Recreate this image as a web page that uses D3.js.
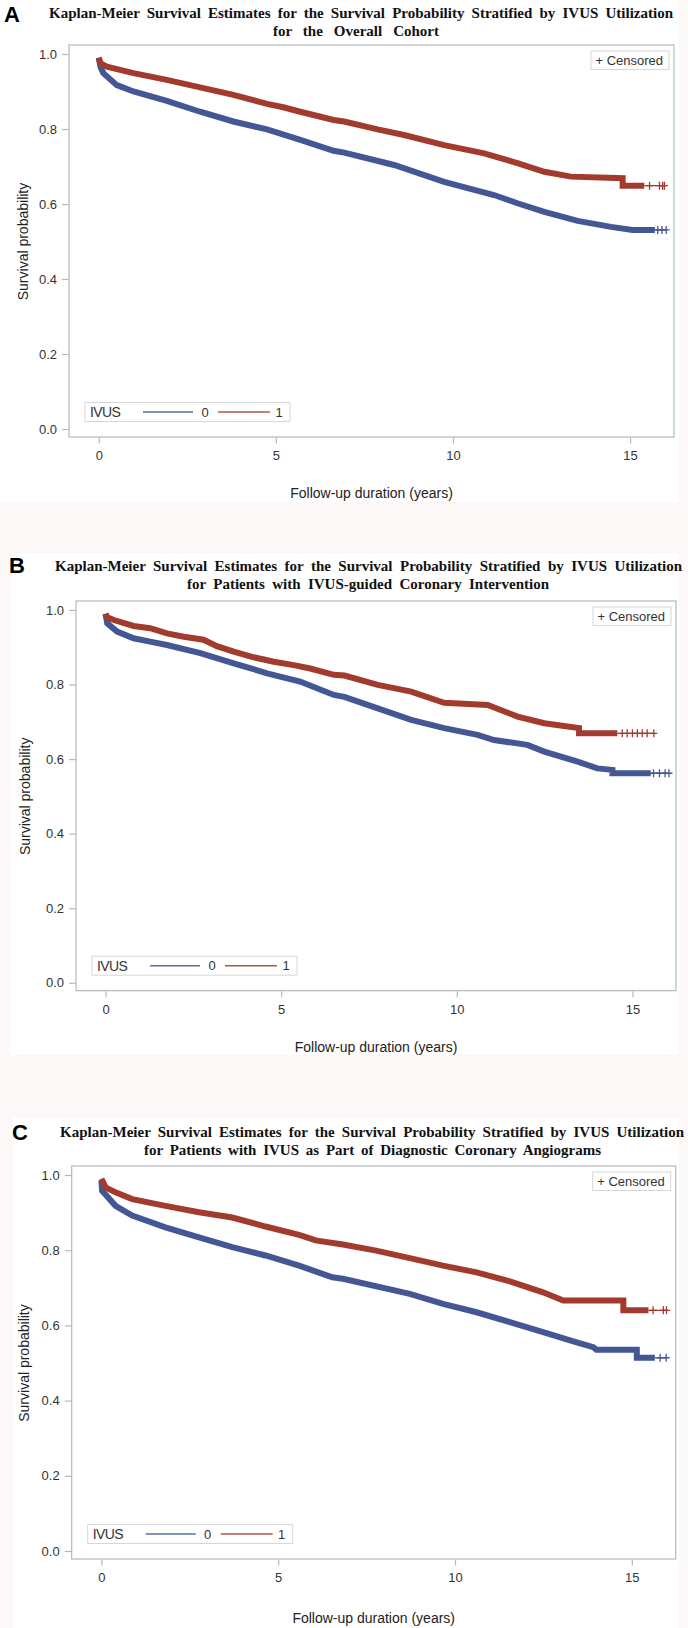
<!DOCTYPE html>
<html><head><meta charset="utf-8">
<script src="https://cdn.jsdelivr.net/npm/d3@7"></script>
<style>body{margin:0;background:#fcf8f8}svg{display:block}</style>
</head><body>
<svg id="c" width="688" height="1628"></svg>
<script>
// ---------- data ----------
const xTicks = [0, 5, 10, 15];
const yTicks = [0, 0.2, 0.4, 0.6, 0.8, 1.0];
const groups = ["0", "1"];
const panelLetters = ["A", "B", "C"];
const titleLine1 = "Kaplan-Meier Survival Estimates for the Survival Probability Stratified by IVUS Utilization";
const titleLine2 = [
  "for the Overall Cohort",
  "for Patients with IVUS-guided Coronary Intervention",
  "for Patients with IVUS as Part of Diagnostic Coronary Angiograms"
];
const xLabel = "Follow-up duration (years)";
const yLabel = "Survival probability";
const legendTitle = "IVUS";
const censLabel = "+ Censored";

// [time (years), survival probability]
const A_ivus0 = [[0,0.99],[0.05,0.965],[0.13,0.949],[0.51,0.917],[0.98,0.9],[1.92,0.875],[2.86,0.846],[3.8,0.82],[4.75,0.799],[5.69,0.771],[6.63,0.742],[6.93,0.737],[8.34,0.704],[9.75,0.659],[11.16,0.624],[11.82,0.602],[12.58,0.579],[13.52,0.555],[14.46,0.539],[15.07,0.531],[15.7,0.531]];
const A_ivus0_censored = [15.78, 15.9, 16.02];
const A_ivus1 = [[0,0.99],[0.05,0.975],[0.23,0.966],[0.98,0.949],[1.92,0.931],[2.86,0.911],[3.8,0.891],[4.75,0.867],[5.21,0.858],[5.69,0.846],[6.63,0.824],[6.93,0.82],[7.87,0.799],[8.62,0.784],[9.75,0.757],[10.88,0.735],[11.82,0.709],[12.58,0.686],[13.33,0.673],[14.79,0.669],[14.79,0.649],[15.4,0.649]];
const A_ivus1_censored = [15.55, 15.83, 15.92, 15.97];

const B_ivus0 = [[0,0.99],[0.05,0.964],[0.33,0.942],[0.8,0.924],[1.27,0.915],[1.75,0.906],[2.7,0.884],[3.65,0.857],[4.6,0.83],[5.54,0.808],[6.02,0.79],[6.5,0.772],[6.8,0.767],[7.75,0.736],[8.7,0.705],[9.64,0.683],[10.59,0.665],[11.06,0.651],[12.01,0.638],[12.49,0.62],[13.44,0.593],[14.0,0.575],[14.43,0.571],[14.43,0.562],[15.52,0.562]];
const B_ivus0_censored = [15.6, 15.77, 15.93, 16.04];
const B_ivus1 = [[0,0.99],[0.05,0.98],[0.24,0.973],[0.8,0.957],[1.27,0.951],[1.75,0.937],[2.23,0.928],[2.79,0.92],[3.17,0.903],[3.65,0.888],[4.22,0.873],[4.79,0.861],[5.36,0.852],[5.83,0.843],[6.5,0.826],[6.8,0.824],[7.75,0.799],[8.7,0.781],[9.64,0.751],[10.88,0.745],[11.73,0.714],[12.49,0.696],[13.48,0.683],[13.48,0.669],[14.57,0.669]];
const B_ivus1_censored = [14.71, 14.85, 15.0, 15.14, 15.28, 15.42, 15.61];

const C_ivus0 = [[0,0.985],[0.02,0.958],[0.4,0.918],[0.87,0.892],[1.81,0.861],[2.76,0.834],[3.7,0.808],[4.64,0.786],[5.59,0.759],[6.53,0.728],[6.83,0.724],[8.72,0.684],[9.66,0.657],[10.61,0.635],[11.55,0.609],[12.49,0.582],[13.44,0.555],[13.91,0.542],[14.0,0.535],[15.14,0.535],[15.14,0.514],[15.65,0.514]];
const C_ivus0_censored = [15.8, 15.97];
const C_ivus1 = [[0,0.99],[0.12,0.967],[0.4,0.954],[0.87,0.936],[1.81,0.918],[2.76,0.901],[3.7,0.887],[4.64,0.863],[5.59,0.841],[6.06,0.826],[6.83,0.815],[7.77,0.799],[8.72,0.779],[9.66,0.759],[10.61,0.741],[11.55,0.717],[12.49,0.688],[13.06,0.666],[14.76,0.666],[14.76,0.64],[15.47,0.64]];
const C_ivus1_censored = [15.6, 15.89, 15.98];

// ---------- drawing ----------
const SANS = "'Liberation Sans', Arial, sans-serif";
const SERIF = "'Liberation Serif', 'Times New Roman', serif";
const colors = {"0": "#445694", "1": "#A23A2E"};
const frameColor = "#b4b9be";

const panels = [
  {series: {"0": [A_ivus0, A_ivus0_censored], "1": [A_ivus1, A_ivus1_censored]},
   bg: [0, 0, 679, 502], frame: [69, 45, 674, 437],
   t1: [49, 673, 17.5], t2: [273, 439, 36], letter: [4, 22], yTitleX: 28, xTitleY: 498},
  {series: {"0": [B_ivus0, B_ivus0_censored], "1": [B_ivus1, B_ivus1_censored]},
   bg: [10, 553, 669, 502], frame: [76, 601, 676, 990.7],
   t1: [55, 682, 571], t2: [187, 549, 589], letter: [9, 573], yTitleX: 30, xTitleY: 1052},
  {series: {"0": [C_ivus0, C_ivus0_censored], "1": [C_ivus1, C_ivus1_censored]},
   bg: [13, 1118, 666, 510], frame: [71.7, 1166, 675.7, 1559],
   t1: [60, 684, 1136.5], t2: [144, 601, 1155], letter: [12, 1140], yTitleX: 29, xTitleY: 1623}
];

const svg = d3.select("#c");

function fitTitle(sel, x0, x1) {
  sel.attr("x", x0);
  const nat = sel.node().getComputedTextLength();
  const n = (sel.text().match(/ /g) || []).length;
  if (n > 0) sel.style("word-spacing", ((x1 - x0 - nat) / n) + "px");
}

panels.forEach((p, i) => {
  const [fx0, fy0, fx1, fy1] = p.frame;
  svg.append("rect").attr("x", p.bg[0]).attr("y", p.bg[1]).attr("width", p.bg[2]).attr("height", p.bg[3]).attr("fill", "#ffffff");

  const x = d3.scaleLinear().domain([-0.84, 16.24]).range([fx0, fx1]);
  const y = d3.scaleLinear().domain([-0.0213, 1.024]).range([fy1, fy0]);
  const g = svg.append("g");

  // titles
  const tl1 = g.append("text").attr("y", p.t1[2]).attr("font-family", SERIF).attr("font-weight", "bold")
    .attr("font-size", 15).attr("fill", "#111").text(titleLine1);
  fitTitle(tl1, p.t1[0], p.t1[1]);
  const tl2 = g.append("text").attr("y", p.t2[2]).attr("font-family", SERIF).attr("font-weight", "bold")
    .attr("font-size", 15).attr("fill", "#111").text(titleLine2[i]);
  fitTitle(tl2, p.t2[0], p.t2[1]);
  g.append("text").attr("x", p.letter[0]).attr("y", p.letter[1]).attr("font-family", SANS).attr("font-weight", "bold")
    .attr("font-size", 22).attr("fill", "#000").text(panelLetters[i]);

  // frame
  g.append("rect").attr("x", fx0).attr("y", fy0).attr("width", fx1 - fx0).attr("height", fy1 - fy0)
    .attr("fill", "#fff").attr("stroke", frameColor).attr("stroke-width", 1.2);

  // axes
  const ya = g.append("g").attr("transform", `translate(${fx0},0)`)
    .call(d3.axisLeft(y).tickValues(yTicks).tickFormat(d3.format(".1f")).tickSize(7).tickPadding(5));
  const xa = g.append("g").attr("transform", `translate(0,${fy1 + 0.6})`)
    .call(d3.axisBottom(x).tickValues(xTicks).tickFormat(d3.format("d")).tickSize(6).tickPadding(7.5));
  [ya, xa].forEach(a => {
    a.select(".domain").remove();
    a.selectAll(".tick line").attr("stroke", frameColor).attr("stroke-width", 1.2);
    a.selectAll(".tick text").attr("font-family", SANS).attr("font-size", 13).attr("fill", "#333");
  });

  g.append("text").attr("transform", `translate(${p.yTitleX},${(y(0) + y(1)) / 2}) rotate(-90)`)
    .attr("text-anchor", "middle").attr("font-family", SANS).attr("font-size", 14).attr("fill", "#222").text(yLabel);
  g.append("text").attr("x", (fx0 + fx1) / 2).attr("y", p.xTitleY).attr("text-anchor", "middle")
    .attr("font-family", SANS).attr("font-size", 14).attr("fill", "#222").text(xLabel);

  // curves
  const line = d3.line().x(d => x(d[0])).y(d => y(d[1]));
  groups.forEach(k => {
    const [body, cens] = p.series[k];
    const c = colors[k];
    const last = body[body.length - 1];
    const tEnd = cens[cens.length - 1];
    g.append("path").attr("d", line([last, [tEnd, last[1]]])).attr("fill", "none")
      .attr("stroke", c).attr("stroke-width", 1.3);
    g.append("path").attr("d", line(body)).attr("fill", "none")
      .attr("stroke", c).attr("stroke-width", 6).attr("stroke-linejoin", "miter");
    g.selectAll(null).data(cens).enter().append("path")
      .attr("d", t => `M${x(t) - 3.5},${y(last[1])}h7M${x(t)},${y(last[1]) - 4}v8`)
      .attr("stroke", c).attr("stroke-width", 1.3).attr("fill", "none");
  });

  // censored legend
  const cbx = fx1 - 5 - 78, cby = fy0 + 6;
  g.append("rect").attr("x", cbx).attr("y", cby).attr("width", 78).attr("height", 18.5)
    .attr("fill", "#fff").attr("stroke", "#d6d6d6").attr("stroke-width", 1);
  g.append("text").attr("x", cbx + 4.5).attr("y", cby + 14).attr("font-family", SANS).attr("font-size", 13)
    .attr("fill", "#333").text(censLabel);

  // group legend
  const L = fx0 + 16, ly0 = fy1 - 34.5, lcy = ly0 + 9.5;
  g.append("rect").attr("x", L).attr("y", ly0).attr("width", 205).attr("height", 19)
    .attr("fill", "#fff").attr("stroke", "#d6d6d6").attr("stroke-width", 1);
  g.append("text").attr("x", L + 5).attr("y", lcy + 5).attr("font-family", SANS).attr("font-size", 14)
    .attr("letter-spacing", -0.6).attr("fill", "#333").text(legendTitle);
  const legPos = {"0": [58, 108, 120], "1": [133, 185, 194]};
  groups.forEach(k => {
    const [a, b, tx] = legPos[k];
    g.append("line").attr("x1", L + a).attr("x2", L + b).attr("y1", lcy).attr("y2", lcy)
      .attr("stroke", colors[k]).attr("stroke-width", 1.4).attr("stroke-opacity", 0.85);
    g.append("text").attr("x", L + tx).attr("y", lcy + 4.5).attr("text-anchor", "middle")
      .attr("font-family", SANS).attr("font-size", 13).attr("fill", "#333").text(k);
  });
});
</script>
</body></html>
